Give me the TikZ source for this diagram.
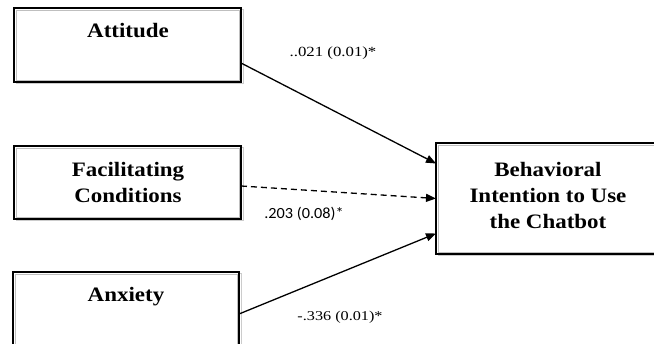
\documentclass[tikz,border=0pt]{standalone}
\usepackage{fontspec}
\setmainfont{Liberation Serif}
\newfontfamily\titlefont[FakeStretch=1.12]{Liberation Serif}
\newfontfamily\labfont[FakeStretch=1.2]{Liberation Serif}
\newfontfamily\labsans[FakeStretch=1.05]{Carlito}
\usetikzlibrary{arrows.meta,calc}
\begin{document}
\begin{tikzpicture}[x=1pt,y=-1pt,
  box/.style={draw=black, line width=1.3pt, fill=white, inner sep=0pt, outer sep=0pt},
  boxtext/.style={font=\titlefont\bfseries\fontsize{20.5}{26}\selectfont, align=center, inner sep=0pt},
  coef/.style={font=\labfont\fontsize{13.5}{15}\selectfont, inner sep=0pt},
  path/.style={line width=1.3pt, -{Triangle[length=10pt,width=8pt]}}
]
\clip (0,0) rectangle (654,344);
\fill[white] (0,0) rectangle (654,344);
% shadows
\draw[gray!40, line width=1pt] (16,10) rectangle (243,84);
\draw[gray!40, line width=1pt] (16,148) rectangle (243,221);
\draw[gray!40, line width=1pt] (15,274) rectangle (241,360);
\draw[gray!40, line width=1pt] (438,145) rectangle (662,256);
% boxes
\node[box, minimum width=227pt, minimum height=74pt] (att) at (127.5,45) {};
\node[box, minimum width=227pt, minimum height=73pt] (fac) at (127.5,182.5) {};
\node[box, minimum width=226pt, minimum height=84pt] (anx) at (126,314) {};
\node[box, minimum width=224pt, minimum height=111pt] (beh) at (548,198.5) {};
% inner grey lines
\draw[gray!50, line width=0.6pt] ($(att.north west)+(2,2)$) rectangle ($(att.south east)+(-2,-2)$);
\draw[gray!50, line width=0.6pt] ($(fac.north west)+(2,2)$) rectangle ($(fac.south east)+(-2,-2)$);
\draw[gray!50, line width=0.6pt] ($(anx.north west)+(2,2)$) rectangle ($(anx.south east)+(-2,-2)$);
\draw[gray!50, line width=0.6pt] ($(beh.north west)+(2,2)$) rectangle ($(beh.south east)+(-2,-2)$);
% texts
\node[boxtext] (tatt) at (128,31) {Attitude};
\node[boxtext] (tfac) at (128,182) {Facilitating\\Conditions};
\node[boxtext] (tanx) at (126,297) {Anxiety};
\node[boxtext] (tbeh) at (548,195) {Behavioral\\Intention to Use\\the Chatbot};
% paths
\draw[path] ([yshift=-18pt]att.east) -- ([yshift=35pt]beh.west);
\draw[path, dashed, dash pattern=on 6pt off 4pt] ([yshift=-3.5pt]fac.east) -- (beh.west);
\draw[path] ([yshift=0pt]anx.east) -- ([yshift=-35pt]beh.west);
% coefficients
\node[coef, font=\labfont\fontsize{14}{15}\selectfont] (c1) at (333,53) {..021 (0.01)*};
\node[coef, font=\labsans\fontsize{15.5}{16}\selectfont] (c2) at (304,214) {.203 (0.08)*};
\node[coef] (c3) at (340,317) {-.336 (0.01)*};
\end{tikzpicture}
\end{document}
